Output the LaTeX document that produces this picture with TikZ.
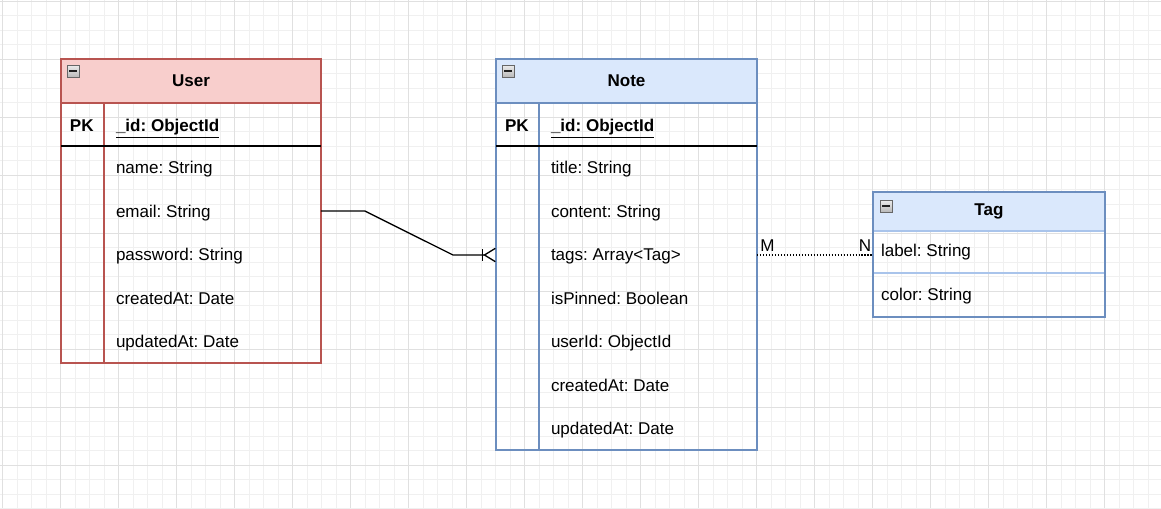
\documentclass[tikz,border=0pt]{standalone}
\usepackage{fontspec}
\setmainfont{Liberation Sans}
\usetikzlibrary{arrows.meta,calc}

\definecolor{userfill}{HTML}{F8CECC}
\definecolor{userline}{HTML}{B85450}
\definecolor{notefill}{HTML}{DAE8FC}
\definecolor{noteline}{HTML}{6C8EBF}
\definecolor{tagrow}{HTML}{A9C4EB}
\definecolor{gridminor}{HTML}{F0F0F0}
\definecolor{gridmajor}{HTML}{E0E0E0}

\tikzset{
    every node/.style={font=\fontsize{9.7}{11.6}\selectfont\frenchspacing, inner sep=0pt, outer sep=0pt},
    tblhead/.style={anchor=north west, font=\fontsize{9.7}{11.6}\selectfont\bfseries, line width=0.8pt},
    tblbody/.style={anchor=north west, draw, line width=0.8pt},
    field/.style={anchor=west, text height=7pt, text depth=0pt},
    pkfield/.style={field, font=\fontsize{9.7}{11.6}\selectfont\bfseries\frenchspacing},
    pkline/.style={line width=0.9pt, black},
    iconbox/.style={draw=gray!80!black, line width=0.4pt, top color=gray!15, bottom color=gray!55},
    iconbar/.style={line width=1.1pt, gray!25!black},
    relation/.style={line width=0.75pt, black},
}

\newcommand{\minusicon}[1]{%
    \draw[iconbox] ($(#1)+(6,6)$) rectangle ++(12,12);
    \draw[iconbar] ($(#1)+(8,12)$) -- ++(8,0);
}

\begin{document}
\begin{tikzpicture}[x=0.02cm, y=-0.02cm]
    \useasboundingbox (0,0) rectangle (1161,508);
    \foreach \i in {0,...,80}
        \draw[gridminor, line width=0.5pt] ({2.5+14.5*\i},0) -- ++(0,508);
    \foreach \j in {0,...,35}
        \draw[gridminor, line width=0.5pt] (0,{1+14.5*\j}) -- ++(1161,0);
    \foreach \i in {0,...,20}
        \draw[gridmajor, line width=0.5pt] ({2.5+58*\i},0) -- ++(0,508);
    \foreach \j in {0,...,8}
        \draw[gridmajor, line width=0.5pt] (0,{1+58*\j}) -- ++(1161,0);

    % User
    \node[tblhead, fill=userfill, draw=userline, minimum width=5.2cm, minimum height=0.88cm] (userh) at (61,59) {User};
    \node[tblbody, draw=userline, minimum width=5.2cm, minimum height=6.08cm] (user) at (61,59) {};
    \coordinate (usernw) at (61,59);
    \minusicon{usernw}
    \draw[userline, line width=0.8pt] (104,103) -- (104,363);
    \draw[pkline] (61,146) -- (321,146);
    \node[pkfield] (upk) at (70,125) {PK};
    \node[pkfield] (uid) at (116,125) {\underline{\_id: ObjectId}};
    \node[field] (uname) at (116,167) {name: String};
    \node[field] (uemail) at (116,211) {email: String};
    \node[field] (upass) at (116,254) {password: String};
    \node[field] (ucreated) at (116,298) {createdAt: Date};
    \node[field] (uupdated) at (116,341) {updatedAt: Date};

    % Note
    \node[tblhead, fill=notefill, draw=noteline, minimum width=5.22cm, minimum height=0.88cm] (noteh) at (496,59) {Note};
    \node[tblbody, draw=noteline, minimum width=5.22cm, minimum height=7.82cm] (note) at (496,59) {};
    \coordinate (notenw) at (496,59);
    \minusicon{notenw}
    \draw[noteline, line width=0.8pt] (539,103) -- (539,450);
    \draw[pkline] (496,146) -- (757,146);
    \node[pkfield] (npk) at (505,125) {PK};
    \node[pkfield] (nid) at (551,125) {\underline{\_id: ObjectId}};
    \node[field] (ntitle) at (551,167) {title: String};
    \node[field] (ncontent) at (551,211) {content: String};
    \node[field] (ntags) at (551,254) {tags: Array<Tag>};
    \node[field] (npinned) at (551,298) {isPinned: Boolean};
    \node[field] (nuser) at (551,341) {userId: ObjectId};
    \node[field] (ncreated) at (551,385) {createdAt: Date};
    \node[field] (nupdated) at (551,428) {updatedAt: Date};

    % Tag
    \node[tblhead, fill=notefill, draw=noteline, minimum width=4.64cm, minimum height=0.78cm] (tagh) at (873,192) {Tag};
    \node[tblbody, draw=noteline, minimum width=4.64cm, minimum height=2.5cm] (tag) at (873,192) {};
    \coordinate (tagnw) at (874,194);
    \minusicon{tagnw}
    \draw[tagrow, line width=0.8pt] (874,231) -- (1104,231);
    \draw[tagrow, line width=0.8pt] (874,273) -- (1104,273);
    \node[field] (tlabel) at (881,250) {label: String};
    \node[field] (tcolor) at (881,294) {color: String};

    % relations
    \draw[relation, -{Bar[width=6.8pt, sep=0pt]Straight Barb[reversed, length=6.2pt, width=7.6pt, sep=0pt]}]
        (user.east |- uemail) -- ++(44,0) -- ($(note.west |- ntags)+(-43,1)$) -- ($(note.west |- ntags)+(0,1)$);
    \draw[relation, dash pattern=on 0.6pt off 1.1pt, line width=0.6pt] ($(note.east |- ntags)+(0,1)$) -- ($(tag.west |- ntags)+(0,1)$)
        node[pos=0, above right, yshift=2pt, xshift=2pt] {M}
        node[pos=1, above left, yshift=2pt, xshift=-1pt] {N};
\end{tikzpicture}
\end{document}
